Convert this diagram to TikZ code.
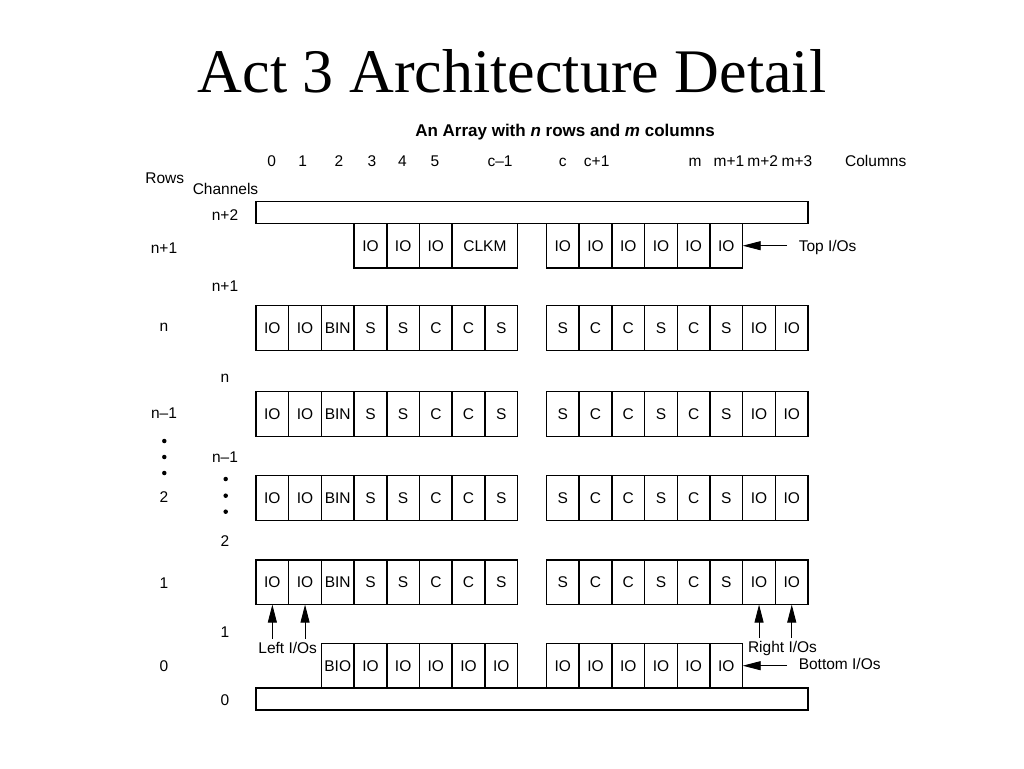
\documentclass[tikz,border=0pt]{standalone}
\usepackage{fontspec}
\setmainfont{Liberation Sans}
\newfontfamily\titlefont{Liberation Serif}
\usetikzlibrary{arrows.meta, positioning}

\begin{document}
\begin{tikzpicture}[
            x = 1pt, y = -1pt, % pixel grid, y runs downward
            > = {Triangle[length=18pt, width=9pt]}, % arrow head style
            line width = 1.5pt, % line style
            font = \fontsize{15.5}{18}\selectfont,
        ]
\tikzstyle{lbl}=[
            text height = 11pt,
            text depth = 0pt
        ]
\tikzstyle{cell}=[
            lbl,
            draw = black,
            anchor = north west,
            inner sep = 0pt,
            outer sep = 0pt,
            minimum width = 32.7pt,
            minimum height = 44.6pt
        ]
\tikzstyle{bar}=[
            cell,
            minimum width = 552pt,
            minimum height = 22pt
        ]
\tikzstyle{note}=[
            lbl,
            inner sep = 3pt
        ]
\tikzstyle{dotmark}=[
            shape = circle,
            fill = black,
            inner sep = 0pt,
            minimum size = 4.5pt
        ]
\tikzstyle{pointer}=[
            ->,
            line width = 0.9pt
        ]
\fill[white] (0,0) rectangle (1024,768);
\useasboundingbox (0,0) rectangle (1024,768);
% headings
\node[font=\titlefont\fontsize{62}{70}\selectfont] (title) at (512,71) {Act 3 Architecture Detail};
\node[lbl, font=\fontsize{17}{20}\selectfont\bfseries] (subtitle) at (565,131) {An Array with \textit{n} rows and \textit{m} columns};
\foreach \t/\x [count=\i] in {0/271.7, 1/302.7, 2/339, 3/372, 4/402.5, 5/435, c--1/500, c/562.7, c+1/596.7, m/695, m+1/729, m+2/762.7, m+3/797, Columns/875.7}
    \node[lbl] (col\i) at (\x,160.7) {\t};
\node[lbl] (rows) at (164.7,178) {Rows};
\node[lbl] (channels) at (225.5,189) {Channels};
\foreach \t/\y [count=\i] in {n+1/247.7, n/326, n--1/413, 2/496.7, 1/583, 0/666}
    \node[lbl] (row\i) at (164,\y) {\t};
\foreach \t/\y [count=\i] in {n+2/215, n+1/286, n/377, n--1/457, 2/541, 1/631.7, 0/700}
    \node[lbl] (chan\i) at (225,\y) {\t};
\foreach \y [count=\i] in {441, 457, 473}
    \node[dotmark] (rdot\i) at (164.3,\y) {};
\foreach \y [count=\i] in {479, 495.7, 511.7}
    \node[dotmark] (cdot\i) at (225.7,\y) {};
% channels
\node[bar] (topbar) at (256,201.7) {};
\node[bar] (botbar) at (256,688) {};
% top I/O row
\foreach \i in {3,4,5}
    \node[cell] (tl\i) at (256+\i*32.7,223.4) {IO};
\node[cell, minimum width=65.4pt] (clkm) at (256+6*32.7,223.4) {CLKM};
\foreach \i in {0,...,5}
    \node[cell] (tr\i) at (546.5+\i*32.7,223.4) {IO};
% logic rows
\foreach \r/\y in {n/305.7, nm/391.7, two/475.7, one/560} {
    \foreach \t [count=\i from 0] in {IO,IO,BIN,S,S,C,C,S}
        \node[cell] (\r-l\i) at (256+\i*32.7,\y) {\t};
    \foreach \t [count=\i from 0] in {S,C,C,S,C,S,IO,IO}
        \node[cell] (\r-r\i) at (546.5+\i*32.7,\y) {\t};
}
% bottom I/O row
\node[cell] (bl2) at (256+2*32.7,643.4) {BIO};
\foreach \i in {3,...,7}
    \node[cell] (bl\i) at (256+\i*32.7,643.4) {IO};
\foreach \i in {0,...,5}
    \node[cell] (br\i) at (546.5+\i*32.7,643.4) {IO};
% I/O pointers
\node[note, anchor=west, inner xsep=11pt] (toplbl) at (787,246) {Top I/Os};
\node[note, anchor=west, inner xsep=11pt] (botlbl) at (787,664) {Bottom I/Os};
\node[note] (leftlbl) at (287.7,648) {Left I/Os};
\node[note] (rightlbl) at (782.5,647) {Right I/Os};
\draw[pointer] (toplbl.west |- tr5) -- (tr5.east);
\draw[pointer] (botlbl.west |- br5) -- (br5.east);
\draw[pointer] (leftlbl.north -| one-l0) -- (one-l0.south);
\draw[pointer] (leftlbl.north -| one-l1) -- (one-l1.south);
\draw[pointer] (rightlbl.north -| one-r6) -- (one-r6.south);
\draw[pointer] (rightlbl.north -| one-r7) -- (one-r7.south);
\end{tikzpicture}
\end{document}
